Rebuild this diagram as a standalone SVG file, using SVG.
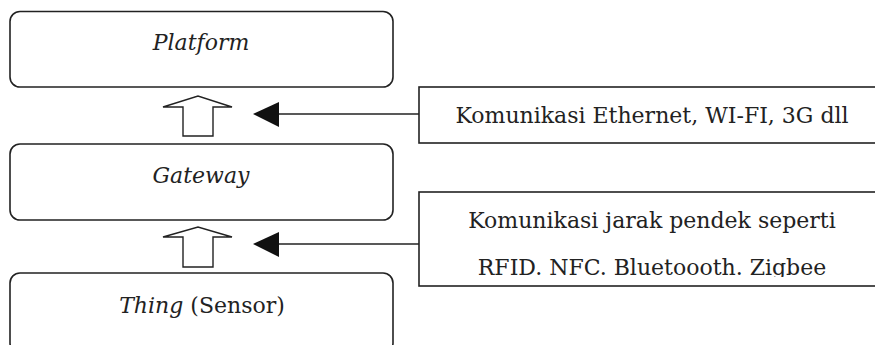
<svg xmlns="http://www.w3.org/2000/svg" width="875" height="345" viewBox="0 0 875 345">
<style>
.box{fill:#fff;stroke:#222;stroke-width:1.6}
.lbl{font-family:"DejaVu Serif","Liberation Serif",serif;font-size:22px;fill:#222}
.it{font-style:italic}
.hollow{fill:#fff;stroke:#222;stroke-width:1.4;stroke-linejoin:miter}
.line{stroke:#222;stroke-width:1.6;fill:none}
.head{fill:#111}
</style>
<defs>
<clipPath id="clipLow"><rect x="419" y="190" width="460" height="87"/></clipPath>
</defs>
<rect width="875" height="345" fill="#fff"/>
<g id="platform">
<rect class="box" x="10" y="11.5" width="383" height="75.5" rx="10"/>
<text class="lbl it" x="201" y="50" text-anchor="middle">Platform</text>
</g>
<g id="gateway">
<rect class="box" x="10" y="144" width="383" height="76" rx="10"/>
<text class="lbl it" x="201" y="183" text-anchor="middle">Gateway</text>
</g>
<g id="thing">
<rect class="box" x="10" y="273" width="383" height="80" rx="10"/>
<text class="lbl" x="202" y="313" text-anchor="middle"><tspan class="it">Thing</tspan> (Sensor)</text>
</g>
<g id="comm-upper">
<rect class="box" x="419" y="87" width="470" height="56"/>
<text class="lbl" x="652" y="123" text-anchor="middle">Komunikasi Ethernet, WI-FI, 3G dll</text>
</g>
<g id="comm-lower">
<rect class="box" x="419" y="192" width="470" height="94"/>
<g clip-path="url(#clipLow)">
<text class="lbl" x="652" y="228" text-anchor="middle">Komunikasi jarak pendek seperti</text>
<text class="lbl" x="652" y="275" text-anchor="middle">RFID. NFC. Bluetoooth. Zigbee</text>
</g>
</g>
<g id="connectors">
<polygon class="hollow" points="183,136 213,136 213,107 232,107 198,96 163,107 183,107"/>
<polygon class="hollow" points="183,267 213,267 213,237 232,237 198,227 163,237 183,237"/>
<line class="line" x1="278" y1="114" x2="419" y2="114"/>
<polygon class="head" points="253,114 279,102 279,127"/>
<line class="line" x1="278" y1="244" x2="419" y2="244"/>
<polygon class="head" points="253,244 279,232 279,257"/>
</g>
</svg>
